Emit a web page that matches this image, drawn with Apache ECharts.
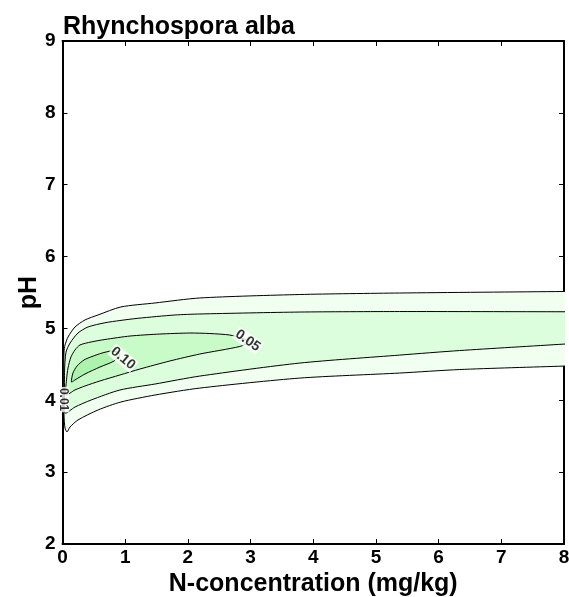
<!DOCTYPE html>
<html>
<head>
<meta charset="utf-8">
<script src="https://cdn.jsdelivr.net/npm/echarts@6/dist/echarts.min.js"></script>
<style>
  html, body { margin: 0; padding: 0; background: #fff; }
  #chart { width: 569px; height: 597px; }
</style>
</head>
<body>
<div id="chart"></div>
<script>
// Rhynchospora alba — response surface over N-concentration and pH, drawn as
// filled contour polygons (outer to inner).

const xTicks = [0, 1, 2, 3, 4, 5, 6, 7, 8];
const yTicks = [2, 3, 4, 5, 6, 7, 8, 9];

// Contour levels, outer to inner
const levels = [0.01, 0.03, 0.05, 0.10];
const fills = ["#F0FFF0", "#DCFEDC", "#C9FBC9", "#ADF2AD"];

// level 0.01 (runs past x = 8, clipped by the grid)
const contour001 = [
  [0.024, 4.670], [0.040, 4.769], [0.088, 4.881], [0.199, 5.020], [0.359, 5.118],
  [0.566, 5.187], [0.932, 5.299], [1.474, 5.354], [2.191, 5.424], [3.785, 5.472],
  [5.379, 5.493], [8.0, 5.514], [8.5, 5.518],
  [8.5, 4.490], [8.0, 4.476], [6.335, 4.428], [5.379, 4.379], [3.785, 4.309],
  [2.191, 4.170], [1.474, 4.073], [0.932, 3.976], [0.566, 3.865], [0.247, 3.726],
  [0.120, 3.628], [0.072, 3.559], [0.040, 3.614], [0.024, 3.795], [0.019, 4.143],
  [0.021, 4.490]
];

// level 0.03 (unlabelled)
const contour003 = [
  [0.040, 3.822], [0.033, 4.072], [0.033, 4.420], [0.056, 4.670], [0.120, 4.796],
  [0.247, 4.936], [0.406, 5.020], [0.677, 5.079], [0.916, 5.110], [1.203, 5.141],
  [1.793, 5.187], [2.191, 5.201], [3.785, 5.228], [5.379, 5.235], [8.0, 5.232],
  [8.5, 5.232],
  [8.5, 4.809], [8.0, 4.782], [6.335, 4.692], [5.379, 4.629], [3.785, 4.518],
  [2.191, 4.337], [1.474, 4.226], [0.916, 4.143], [0.454, 4.003], [0.199, 3.906]
];

// level 0.05
const contour005 = [
  [0.056, 4.075], [0.064, 4.284], [0.088, 4.450], [0.135, 4.603], [0.199, 4.700],
  [0.279, 4.770], [0.454, 4.811], [0.677, 4.846], [1.076, 4.894], [1.554, 4.922],
  [2.032, 4.936], [2.351, 4.929], [2.669, 4.908], [2.876, 4.860], [2.972, 4.811],
  [2.829, 4.749], [2.191, 4.644], [1.713, 4.547], [1.235, 4.435], [0.916, 4.352],
  [0.598, 4.269], [0.359, 4.199], [0.199, 4.144]
];

// level 0.10
const contour010 = [
  [0.143, 4.255], [0.167, 4.380], [0.231, 4.476], [0.343, 4.561], [0.470, 4.609],
  [0.629, 4.657], [0.773, 4.685], [0.869, 4.671], [0.916, 4.630], [0.821, 4.546],
  [0.598, 4.463], [0.359, 4.366], [0.199, 4.283]
];

const contours = [contour001, contour003, contour005, contour010];

// inline contour labels
const labelText = ["0.01", "0.05", "0.10"];
const labelPos = [[0.01, 4.01], [2.956, 4.83], [0.964, 4.585]];
const labelAngle = [-90, -35, -40];

const FONT = "Liberation Sans, Arial, Helvetica, sans-serif";

const chart = echarts.init(document.getElementById("chart"), null, { renderer: "canvas" });

const axisCommon = {
  type: "value",
  axisLine: { show: true, onZero: false, lineStyle: { color: "#000", width: 2 } },
  axisTick: { show: true, inside: true, length: 5, lineStyle: { color: "#000", width: 1 } },
  splitLine: { show: false },
};

chart.setOption({
  animation: false,
  backgroundColor: "#fff",
  title: {
    text: "Rhynchospora alba",
    left: 58, top: 10,
    textStyle: { fontFamily: FONT, fontSize: 25, fontWeight: "bold", color: "#000" },
  },
  grid: { left: 62.5, right: 5, top: 41, bottom: 53, outerBoundsMode: "none" },
  xAxis: [
    {
      ...axisCommon, min: 0, max: 8, interval: 1, position: "bottom",
      name: "N-concentration (mg/kg)", nameLocation: "middle", nameGap: 27,
      nameTextStyle: { fontFamily: FONT, fontSize: 25, fontWeight: "bold", color: "#000" },
      axisLabel: { fontFamily: FONT, fontSize: 19, fontWeight: "bold", color: "#000", margin: 4,
        formatter: (v) => (xTicks.includes(v) ? String(v) : "") },
    },
    { ...axisCommon, min: 0, max: 8, interval: 1, position: "top", axisLabel: { show: false } },
  ],
  yAxis: [
    {
      ...axisCommon, min: 2, max: 9, interval: 1, position: "left",
      name: "pH", nameLocation: "middle", nameGap: 21, nameMoveOverlap: false,
      nameTextStyle: { fontFamily: FONT, fontSize: 25, fontWeight: "bold", color: "#000" },
      axisLabel: { fontFamily: FONT, fontSize: 19, fontWeight: "bold", color: "#000", margin: 7,
        formatter: (v) => (yTicks.includes(v) ? String(v) : "") },
    },
    { ...axisCommon, min: 2, max: 9, interval: 1, position: "right", axisLabel: { show: false } },
  ],
  series: [
    {
      type: "custom",
      coordinateSystem: "cartesian2d",
      clip: true,
      data: levels.map((lv, i) => [i, lv]),
      renderItem: (params, api) => {
        const idx = params.dataIndex;
        const pts = contours[idx].map((p) => api.coord(p));
        return {
          type: "polygon",
          shape: { points: pts, smooth: 0.25 },
          style: { fill: fills[idx], stroke: "#000", lineWidth: 1 },
        };
      },
      z: 1,
    },
    {
      type: "scatter",
      symbolSize: 0,
      data: labelPos.map((p, i) => ({
        value: p,
        label: {
          show: true, position: "inside", formatter: labelText[i], rotate: labelAngle[i],
          fontFamily: FONT, fontSize: i === 0 ? 12 : 14, fontWeight: "bold", color: "#000",
          backgroundColor: "#fff", padding: [0, 1],
        },
      })),
      z: 5,
    },
  ],
});
</script>
</body>
</html>
